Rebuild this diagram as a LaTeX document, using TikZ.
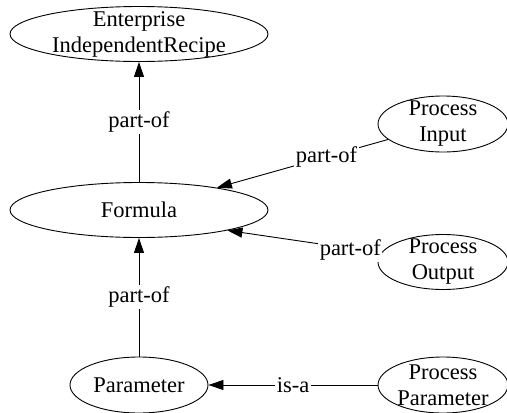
\documentclass[tikz,border=0pt]{standalone}
\usepackage{fontspec}
\setmainfont{Liberation Serif}
\usetikzlibrary{shapes.geometric,arrows.meta}
\begin{document}
\begin{tikzpicture}[x=1pt,y=-1pt,
  every node/.style={font=\fontsize{22.5}{26}\selectfont},
  ent/.style={draw, ellipse, line width=0.9pt, inner sep=-40pt, align=center},
  rel/.style={draw, line width=0.9pt, -{Triangle[length=15pt,width=10pt]}},
  lab/.style={fill=white, inner sep=1.5pt}]
\useasboundingbox (0,0) rectangle (507,413);

% concepts
\node[ent, minimum width=258pt, minimum height=55pt] (eir)  at (139,34)  {Enterprise\\IndependentRecipe};
\node[ent, minimum width=258pt, minimum height=55pt] (form) at (139,210) {Formula};
\node[ent, minimum width=130pt, minimum height=56pt] (pin)  at (443,124) {Process\\Input};
\node[ent, minimum width=130pt, minimum height=55pt] (pout) at (443,262) {Process\\Output};
\node[ent, minimum width=138pt, minimum height=56pt] (par)  at (139,385) {Parameter};
\node[ent, minimum width=130pt, minimum height=56pt] (ppar) at (443,385) {Process\\Parameter};

% relations
\draw[rel] (form) -- node[lab]{part-of} (eir);
\draw[rel] (pin)  -- node[lab, pos=0.36]{part-of} (form.16);
\draw[rel] (pout) -- node[lab, pos=0.2, yshift=-2pt]{part-of} (form.-13);
\draw[rel] (par)  -- node[lab]{part-of} (form);
\draw[rel] (ppar) -- node[lab]{is-a} (par);
\end{tikzpicture}
\end{document}
